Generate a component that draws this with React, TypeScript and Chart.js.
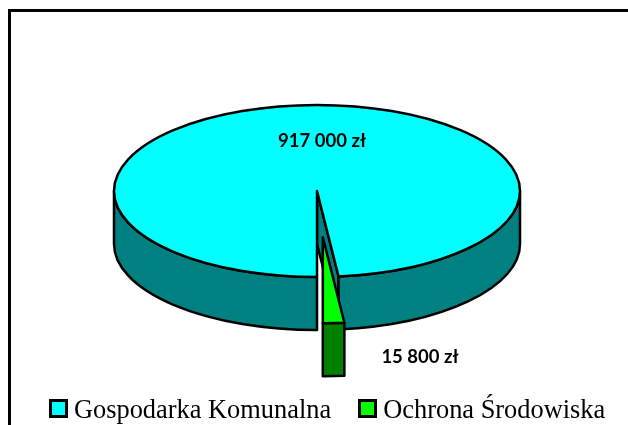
import React, { useEffect, useRef } from "react";
import { Chart, registerables } from "chart.js";

Chart.register(...registerables);

const categories = ["Gospodarka Komunalna", "Ochrona Środowiska"];
const values = [917000, 15800];
const topColors = ["#00FFFF", "#00FF00"];
const wallColors = ["#008080", "#008000"];
const explode = [0, 77.8];

const formatZl = (v: number) =>
  String(v).replace(/\B(?=(\d{3})+(?!\d))/g, " ") + " zł";

const pie3d = {
  id: "pie3d",
  beforeDraw(chart: any) {
    const { ctx, width, height } = chart;
    ctx.save();
    ctx.fillStyle = "#FFFFFF";
    ctx.fillRect(0, 0, width, height);
    ctx.strokeStyle = "#000000";
    ctx.lineWidth = 3;
    ctx.beginPath();
    ctx.moveTo(9.5, height + 5);
    ctx.lineTo(9.5, 10.5);
    ctx.lineTo(width + 5, 10.5);
    ctx.stroke();
    ctx.restore();
  },
  beforeDatasetsDraw(chart: any) {
    const { ctx } = chart;
    const arcs = chart.getDatasetMeta(0).data;
    const cx = 317;
    const cy = 191;
    const rx = 203;
    const ry = 86;
    const depth = 53;
    const r = arcs[0].outerRadius;
    const sx = rx / r;
    const sy = ry / r;

    ctx.save();
    ctx.lineWidth = 2.5;
    ctx.lineJoin = "round";
    ctx.strokeStyle = "#000000";

    arcs.forEach((arc: any, i: number) => {
      const a0 = arc.startAngle;
      const a1 = arc.endAngle;
      const mid = (a0 + a1) / 2;
      const off = arc.options.offset || 0;
      const x = cx + Math.cos(mid) * off * sx;
      const y = cy + Math.sin(mid) * off * sy;
      const pt = (t: number) => [x + rx * Math.cos(t), y + ry * Math.sin(t)];

      const face = (t: number) => {
        const [px, py] = pt(t);
        ctx.beginPath();
        ctx.moveTo(x, y);
        ctx.lineTo(px, py);
        ctx.lineTo(px, py + depth);
        ctx.lineTo(x, y + depth);
        ctx.closePath();
        ctx.fillStyle = wallColors[i];
        ctx.fill();
        ctx.stroke();
      };
      if (Math.cos(a1) > 1e-6) face(a1);
      if (-Math.cos(a0) > 1e-6) face(a0);

      for (let k = 0; k <= 2; k++) {
        const lo = Math.max(a0, k * 2 * Math.PI);
        const hi = Math.min(a1, k * 2 * Math.PI + Math.PI);
        if (hi <= lo) continue;
        ctx.beginPath();
        ctx.ellipse(x, y, rx, ry, 0, lo, hi);
        ctx.ellipse(x, y + depth, rx, ry, 0, hi, lo, true);
        ctx.closePath();
        ctx.fillStyle = wallColors[i];
        ctx.fill();
        ctx.stroke();
      }

      ctx.beginPath();
      ctx.moveTo(x, y);
      ctx.ellipse(x, y, rx, ry, 0, a0, a1);
      ctx.closePath();
      ctx.fillStyle = topColors[i];
      ctx.fill();
      ctx.stroke();
    });

    ctx.fillStyle = "#000000";
    ctx.font = "bold 18.5px Lato";
    ctx.textAlign = "center";
    ctx.textBaseline = "middle";
    ctx.fillText(formatZl(values[0]), 322, 141);
    ctx.fillText(formatZl(values[1]), 420, 357);
    ctx.restore();
    return false;
  },
  afterDraw(chart: any) {
    const { ctx, legend } = chart;
    ctx.save();
    ctx.lineWidth = 3;
    ctx.strokeStyle = "#000000";
    legend.legendHitBoxes.forEach((hit: any, i: number) => {
      const top = Math.round(hit.top + hit.height / 2 - 8) + 0.5 - 3;
      const left = Math.round(hit.left) + 0.5 - 1;
      ctx.fillStyle = topColors[i];
      ctx.fillRect(left, top, 16, 16);
      ctx.strokeRect(left, top, 16, 16);
    });
    ctx.restore();
  },
};

export default function App() {
  const ref = useRef<HTMLCanvasElement>(null);
  useEffect(() => {
    const chart = new Chart(ref.current as HTMLCanvasElement, {
      type: "pie",
      data: {
        labels: categories,
        datasets: [
          {
            data: values,
            backgroundColor: topColors,
            borderColor: "#000000",
            borderWidth: 2,
            offset: explode,
          },
        ],
      },
      options: {
        responsive: false,
        animation: false,
        rotation: 180,
        layout: { padding: { left: 14, right: -14, top: 0, bottom: -9 } },
        plugins: {
          tooltip: { enabled: false },
          legend: {
            display: true,
            position: "bottom",
            labels: {
              color: "#000000",
              font: { family: "'Liberation Serif'", size: 26.4 },
              boxWidth: 10,
              padding: 28.8,
              generateLabels: () =>
                categories.map((text, i) => ({
                  text,
                  index: i,
                  fillStyle: "rgba(0,0,0,0)",
                  strokeStyle: "rgba(0,0,0,0)",
                  lineWidth: 0,
                  fontColor: "#000000",
                })),
            },
          },
        },
      },
      plugins: [pie3d],
    } as any);
    return () => chart.destroy();
  }, []);
  return (
    <div style={{ position: "fixed", left: 0, top: 0, width: 628, height: 425 }}>
      <canvas ref={ref} width={628} height={425} style={{ display: "block" }} />
    </div>
  );
}
